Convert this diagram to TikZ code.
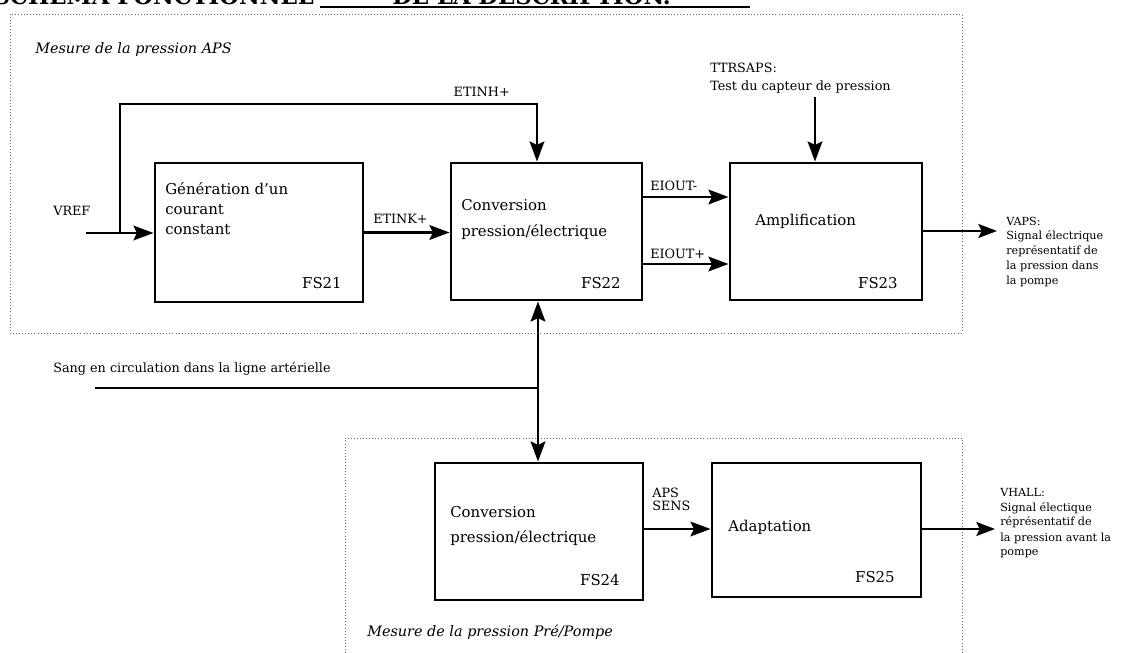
\documentclass[tikz,border=0pt]{standalone}
\usepackage{fontspec}
\setmainfont{DejaVu Serif}
\usetikzlibrary{arrows.meta,fit}
\begin{document}
\begin{tikzpicture}[x=0.75pt,y=-0.75pt,
  box/.style={draw, line width=2.2pt, inner sep=0pt, rectangle},
  conn/.style={line width=2pt, line join=miter, -{Stealth[length=15pt,width=11pt,inset=2.5pt]}},
  dconn/.style={line width=2pt, {Stealth[length=15pt,width=11pt,inset=2.5pt]}-{Stealth[length=15pt,width=11pt,inset=2.5pt]}},
  outc/.style={line width=1.5pt, -{Stealth[length=14pt,width=10.5pt,inset=2.5pt]}},
  plain/.style={line width=2pt},
  frame/.style={draw=black!60, line width=0.5pt, dash pattern=on 0.7pt off 1.6pt},
  boxtxt/.style={inner sep=0pt, anchor=base west, font=\fontsize{11.2}{13}\selectfont},
  fstxt/.style={inner sep=0pt, anchor=base east, font=\fontsize{11.2}{13}\selectfont},
  lbl/.style={inner sep=0pt, anchor=base west, font=\fontsize{9.6}{11}\selectfont},
  side/.style={inner sep=0pt, anchor=base west, font=\fontsize{8.4}{10}\selectfont},
  capt/.style={inner sep=0pt, anchor=base west, font=\fontsize{10.8}{12}\itshape\selectfont},
  ttl/.style={inner sep=0pt, font=\fontsize{17}{20}\bfseries\selectfont}]
\useasboundingbox (0,0) rectangle (1133,653);

% partly visible title (cut at the top edge, as in the reference)
\begin{scope}
\clip (0,0) rectangle (1133,653);
\node[ttl, anchor=base east] (title1) at (314,4) {SCHEMA FONCTIONNEL};
\node[ttl, anchor=base west] (title2) at (392,4) {DE LA DESCRIPTION.};
\end{scope}
\coordinate (ulA) at (320,6.5);
\coordinate (ulB) at (750,6.5);
\draw[line width=1.5pt] (ulA) -- (ulB);

% dotted frames
\draw[frame] (10,14) rectangle (962,333);
\draw[frame] (345,653) -- (345,438) -- (962,438) -- (962,653);

% captions
\node[capt] (capAPS) at (35,53) {Mesure de la pression APS};
\node[capt] (capPre) at (367,636) {Mesure de la pression Pré/Pompe};

% boxes
\node[box, fit={(155,163)(363,302)}] (fs21) {};
\node[box, fit={(451,163)(642,300)}] (fs22) {};
\node[box, fit={(730,163)(922,300)}] (fs23) {};
\node[box, fit={(435,463)(643,600)}] (fs24) {};
\node[box, fit={(712,463)(921,597)}] (fs25) {};

% box texts
\node[boxtxt] (t21a) at (165,194) {Génération d'un};
\node[boxtxt] (t21b) at (165,214) {courant};
\node[boxtxt] (t21c) at (165,234) {constant};
\node[fstxt] (n21) at (342,288) {FS21};
\node[boxtxt] (t22a) at (461,210) {Conversion};
\node[boxtxt] (t22b) at (461,236) {pression/électrique};
\node[fstxt] (n22) at (621,288) {FS22};
\node[boxtxt] (t23) at (755,225) {Amplification};
\node[fstxt] (n23) at (898,288) {FS23};
\node[boxtxt] (t24a) at (450,517) {Conversion};
\node[boxtxt] (t24b) at (450,542) {pression/électrique};
\node[fstxt] (n24) at (620,585) {FS24};
\node[boxtxt] (t25) at (728,531) {Adaptation};
\node[fstxt] (n25) at (895,582) {FS25};

% labels
\node[lbl] (lvref) at (53,215) {VREF};
\node[lbl] (letink) at (373,223) {ETINK+};
\node[lbl, anchor=base east] (letinh) at (510,96) {ETINH+};
\node[lbl] (leioutm) at (650,190) {EIOUT-};
\node[lbl] (leioutp) at (650,258) {EIOUT+};
\node[lbl] (lttr) at (710,72) {TTRSAPS:};
\node[lbl] (lttr2) at (710,90) {Test du capteur de pression};
\node[lbl] (laps) at (652,497) {APS};
\node[lbl] (lsens) at (652,510) {SENS};
\node[lbl] (lsang) at (53,372) {Sang en circulation dans la ligne artérielle};

% output texts
\node[side] (va1) at (1006,225) {VAPS:};
\node[side] (va2) at (1006,239.5) {Signal électrique};
\node[side] (va3) at (1006,254) {représentatif de};
\node[side] (va4) at (1006,269) {la pression dans};
\node[side] (va5) at (1006,284) {la pompe};
\node[side] (vh1) at (1000,496) {VHALL:};
\node[side] (vh2) at (1000,511) {Signal électique};
\node[side] (vh3) at (1000,525.5) {réprésentatif de};
\node[side] (vh4) at (1000,541) {la pression avant la};
\node[side] (vh5) at (1000,555.5) {pompe};

% helper coordinates
\coordinate (vrefin) at (86,233);
\coordinate (branch) at (120,233);
\coordinate (etinhc) at (537,104);
\coordinate (yEm) at (0,197);
\coordinate (yEp) at (0,264);
\coordinate (ttrs) at (815,97);
\coordinate (vapsend) at (997,231);
\coordinate (vx) at (538,388);
\coordinate (sangin) at (95,388);
\coordinate (yAps) at (0,529);
\coordinate (vhallend) at (995,529);

% connectors
\draw[conn] (vrefin) -- (vrefin -| fs21.west);
\draw[conn] (branch) |- (etinhc) -- (etinhc |- fs22.north);
\draw[conn] (fs21.east) -- (fs21.east -| fs22.west);
\draw[conn] (fs22.east |- yEm) -- (fs23.west |- yEm);
\draw[conn] (fs22.east |- yEp) -- (fs23.west |- yEp);
\draw[conn] (ttrs) -- (ttrs |- fs23.north);
\draw[outc] (fs23.east |- vapsend) -- (vapsend);
\draw[dconn] (vx |- fs22.south) -- (vx |- fs24.north);
\draw[plain] (sangin) -- (vx);
\draw[conn] (fs24.east |- yAps) -- (fs25.west |- yAps);
\draw[outc] (fs25.east |- vhallend) -- (vhallend);
\end{tikzpicture}
\end{document}
